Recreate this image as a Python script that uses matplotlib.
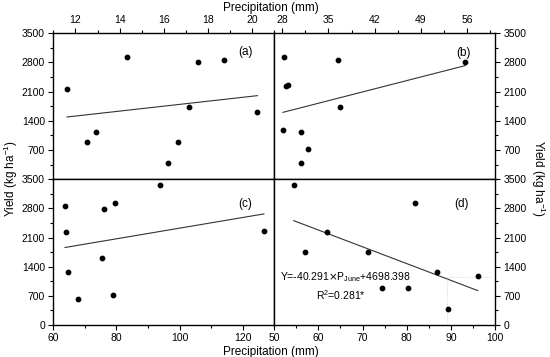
import numpy as np
import matplotlib
matplotlib.use('Agg')
import matplotlib.pyplot as plt
from matplotlib.ticker import MultipleLocator

plt.rcParams['font.family'] = ['Liberation Sans', 'DejaVu Sans']

# (a) precipitation vs yield
pa = [11.62, 12.52, 12.93, 14.32, 16.21, 16.62, 17.14, 17.53, 18.73, 20.24]
ya = [2162, 892, 1122, 2936, 379, 882, 1738, 2800, 2857, 1618]
fit_a_x = [11.62, 20.24]
fit_a_y = [1490, 2001]

# (b)
pb = [28.3, 36.4, 28.6, 28.8, 36.8, 28.15, 30.8, 31.9, 30.8, 55.7]
yb = [2936, 2857, 2235, 2260, 1738, 1179, 1122, 724, 379, 2800]
fit_b_x = [28.1, 55.7]
fit_b_y = [1601, 2720]

# (c)
pc = [63.7, 64.0, 64.7, 67.8, 75.4, 75.9, 78.9, 79.5, 93.9, 126.7]
yc = [2860, 2244, 1270, 616, 1614, 2797, 719, 2932, 3363, 2253]
fit_c_x = [63.7, 126.7]
fit_c_y = [1862, 2668]

# (d) June
pd_ = [54.4, 56.9, 61.9, 71.2, 74.3, 80.2, 81.8, 86.9, 89.4, 96.1]
yd = [3363, 1742, 2237, 1742, 895, 879, 2932, 1270, 376, 1167]
slope_d = -40.291
icpt_d = 4698.398

fig = plt.figure(figsize=(5.5, 3.57), dpi=100)
L, R, B, T = 0.097, 0.9, 0.0896, 0.9076
MX, MY = 0.4987, 0.4978

ax_a = fig.add_axes([L, MY, MX - L, T - MY])
ax_b = fig.add_axes([MX, MY, R - MX, T - MY])
ax_c = fig.add_axes([L, B, MX - L, MY - B])
ax_d = fig.add_axes([MX, B, R - MX, MY - B])

for ax in (ax_a, ax_b, ax_c, ax_d):
    for s in ax.spines.values():
        s.set_linewidth(1.0)
    ax.tick_params(which='both', direction='out', labelsize=7.5, width=0.8, pad=2.5,
                   top=False, bottom=False, left=False, right=False,
                   labeltop=False, labelbottom=False, labelleft=False, labelright=False)
    ax.tick_params(which='major', length=3.5)
    ax.tick_params(which='minor', length=2)
    ax.yaxis.set_minor_locator(MultipleLocator(350))

for ax in (ax_a, ax_b):
    ax.set_ylim(0, 3500)
    ax.set_yticks([700, 1400, 2100, 2800, 3500])
    ax.tick_params(which='both', top=True, labeltop=True)
for ax in (ax_c, ax_d):
    ax.set_ylim(0, 3500)
    ax.set_yticks([0, 700, 1400, 2100, 2800, 3500])
    ax.tick_params(which='both', bottom=True, labelbottom=True)
for ax in (ax_a, ax_c):
    ax.tick_params(which='both', left=True, labelleft=True)
for ax in (ax_b, ax_d):
    ax.tick_params(which='both', right=True, labelright=True)

ax_a.set_xlim(11, 21)
ax_a.set_xticks([12, 14, 16, 18, 20])
ax_a.xaxis.set_minor_locator(MultipleLocator(1))

ax_b.set_xlim(26.8, 60.2)
ax_b.set_xticks([28, 35, 42, 49, 56])
ax_b.set_xticks([31.5, 38.5, 45.5, 52.5, 59.5], minor=True)

ax_c.set_xlim(60, 130)
ax_c.set_xticks([60, 80, 100, 120])
ax_c.set_xticks([70, 90, 110, 130], minor=True)

ax_d.set_xlim(50, 100)
ax_d.set_xticks([50, 60, 70, 80, 90, 100])
ax_d.xaxis.set_minor_locator(MultipleLocator(5))

pts = dict(s=10, color='black', zorder=3)
line = dict(color='#333333', lw=0.8)

ax_a.scatter(pa, ya, **pts)
ax_a.plot(fit_a_x, fit_a_y, **line)
ax_b.scatter(pb, yb, **pts)
ax_b.plot(fit_b_x, fit_b_y, **line)
ax_c.scatter(pc, yc, **pts)
ax_c.plot(fit_c_x, fit_c_y, **line)
ax_d.scatter(pd_, yd, **pts)
xd = np.array([min(pd_), max(pd_)])
ax_d.plot(xd, slope_d * xd + icpt_d, **line)
ax_d.plot([89.1, 98.9], [1150, 1150], color='#cccccc', lw=0.6, ls=':')
ax_d.plot([89.1, 89.1], [1150, 80], color='#cccccc', lw=0.6, ls=':')

for ax, lab, xy in ((ax_a, '(a)', (0.87, 0.867)), (ax_b, '(b)', (0.856, 0.864)),
                    (ax_c, '(c)', (0.867, 0.829)), (ax_d, '(d)', (0.849, 0.829))):
    ax.text(xy[0], xy[1], lab, transform=ax.transAxes, ha='center', va='center', fontsize=8.5)

ax_d.text(0.025, 0.33, r'Y=-40.291$\times$P$_{\mathregular{June}}$+4698.398', transform=ax_d.transAxes,
          ha='left', va='center', fontsize=7.5)
ax_d.text(0.30, 0.205, r'R$^{\mathregular{2}}$=0.281*', transform=ax_d.transAxes,
          ha='center', va='center', fontsize=7.5)

fig.text(0.493, 0.978, 'Precipitation (mm)', ha='center', va='center', fontsize=8.5)
fig.text(0.493, 0.014, 'Precipitation (mm)', ha='center', va='center', fontsize=8.5)
fig.text(0.02, 0.5, r'Yield (kg ha$^{\mathregular{-1}}$)', ha='center', va='center',
         rotation=90, fontsize=8.5)
fig.text(0.978, 0.5, r'Yield (kg ha$^{\mathregular{-1}}$)', ha='center', va='center',
         rotation=-90, fontsize=8.5)

fig.savefig('out.png', dpi=100)
